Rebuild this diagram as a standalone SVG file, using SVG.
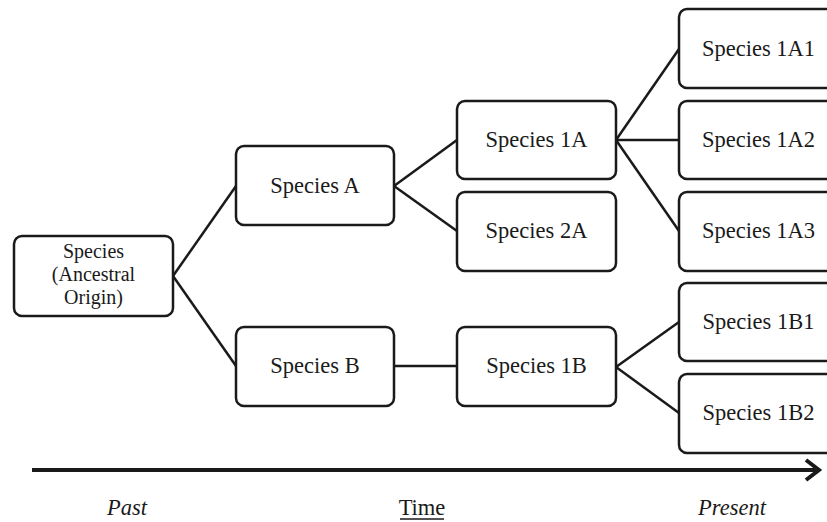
<svg xmlns="http://www.w3.org/2000/svg" width="827" height="522" viewBox="0 0 827 522">
<style>
.box{fill:#fff;stroke:#1a1a1a;stroke-width:2.5}
.t{font-family:"Liberation Serif","Times New Roman",serif;font-size:22.5px;fill:#1a1a1a;text-anchor:middle}
.o{font-family:"Liberation Serif","Times New Roman",serif;font-size:20px;fill:#1a1a1a;text-anchor:middle}
.ax{font-family:"Liberation Serif","Times New Roman",serif;font-size:22.5px;fill:#1a1a1a;text-anchor:middle}
.c{stroke:#1a1a1a;stroke-width:2.5;fill:none}
</style>
<g id="connectors">
<line class="c" x1="173" y1="276" x2="236" y2="186"/>
<line class="c" x1="173" y1="276" x2="236" y2="366"/>
<line class="c" x1="394" y1="186" x2="457" y2="140"/>
<line class="c" x1="394" y1="186" x2="457" y2="231"/>
<line class="c" x1="394" y1="366" x2="457" y2="366"/>
<line class="c" x1="616" y1="140" x2="679" y2="49"/>
<line class="c" x1="616" y1="140" x2="679" y2="140"/>
<line class="c" x1="616" y1="140" x2="679" y2="231"/>
<line class="c" x1="616" y1="367" x2="679" y2="322"/>
<line class="c" x1="616" y1="367" x2="679" y2="413"/>
</g>
<g id="n-origin"><rect class="box" x="14" y="236" width="159" height="80" rx="8"/>
<text class="o" x="93.5" y="258">Species</text><text class="o" x="93.5" y="281">(Ancestral</text><text class="o" x="93.5" y="304">Origin)</text></g>
<g id="n-a"><rect class="box" x="236" y="146" width="158" height="79" rx="8"/><text class="t" x="315" y="193">Species A</text></g>
<g id="n-b"><rect class="box" x="236" y="327" width="158" height="79" rx="8"/><text class="t" x="315" y="373">Species B</text></g>
<g id="n-1a"><rect class="box" x="457" y="101" width="159" height="78" rx="8"/><text class="t" x="536.5" y="147">Species 1A</text></g>
<g id="n-2a"><rect class="box" x="457" y="192" width="159" height="79" rx="8"/><text class="t" x="536.5" y="238">Species 2A</text></g>
<g id="n-1b"><rect class="box" x="457" y="327" width="159" height="79" rx="8"/><text class="t" x="536.5" y="373">Species 1B</text></g>
<g id="n-1a1"><rect class="box" x="679" y="9" width="159" height="79" rx="8"/><text class="t" x="758.5" y="56">Species 1A1</text></g>
<g id="n-1a2"><rect class="box" x="679" y="101" width="159" height="78" rx="8"/><text class="t" x="758.5" y="147">Species 1A2</text></g>
<g id="n-1a3"><rect class="box" x="679" y="192" width="159" height="79" rx="8"/><text class="t" x="758.5" y="238">Species 1A3</text></g>
<g id="n-1b1"><rect class="box" x="679" y="283" width="159" height="78" rx="8"/><text class="t" x="758.5" y="329">Species 1B1</text></g>
<g id="n-1b2"><rect class="box" x="679" y="374" width="159" height="79" rx="8"/><text class="t" x="758.5" y="420">Species 1B2</text></g>
<g id="axis">
<line x1="32" y1="470" x2="818" y2="470" stroke="#1a1a1a" stroke-width="4"/>
<polyline points="806,460 819,470 806,480" fill="none" stroke="#1a1a1a" stroke-width="4" stroke-linejoin="miter"/>
<text class="ax" x="127" y="515" font-style="italic">Past</text>
<text class="ax" x="422" y="515">Time</text>
<line x1="400" y1="519" x2="444" y2="519" stroke="#1a1a1a" stroke-width="1.5"/>
<text class="ax" x="732" y="515" font-style="italic">Present</text>
</g>
</svg>
